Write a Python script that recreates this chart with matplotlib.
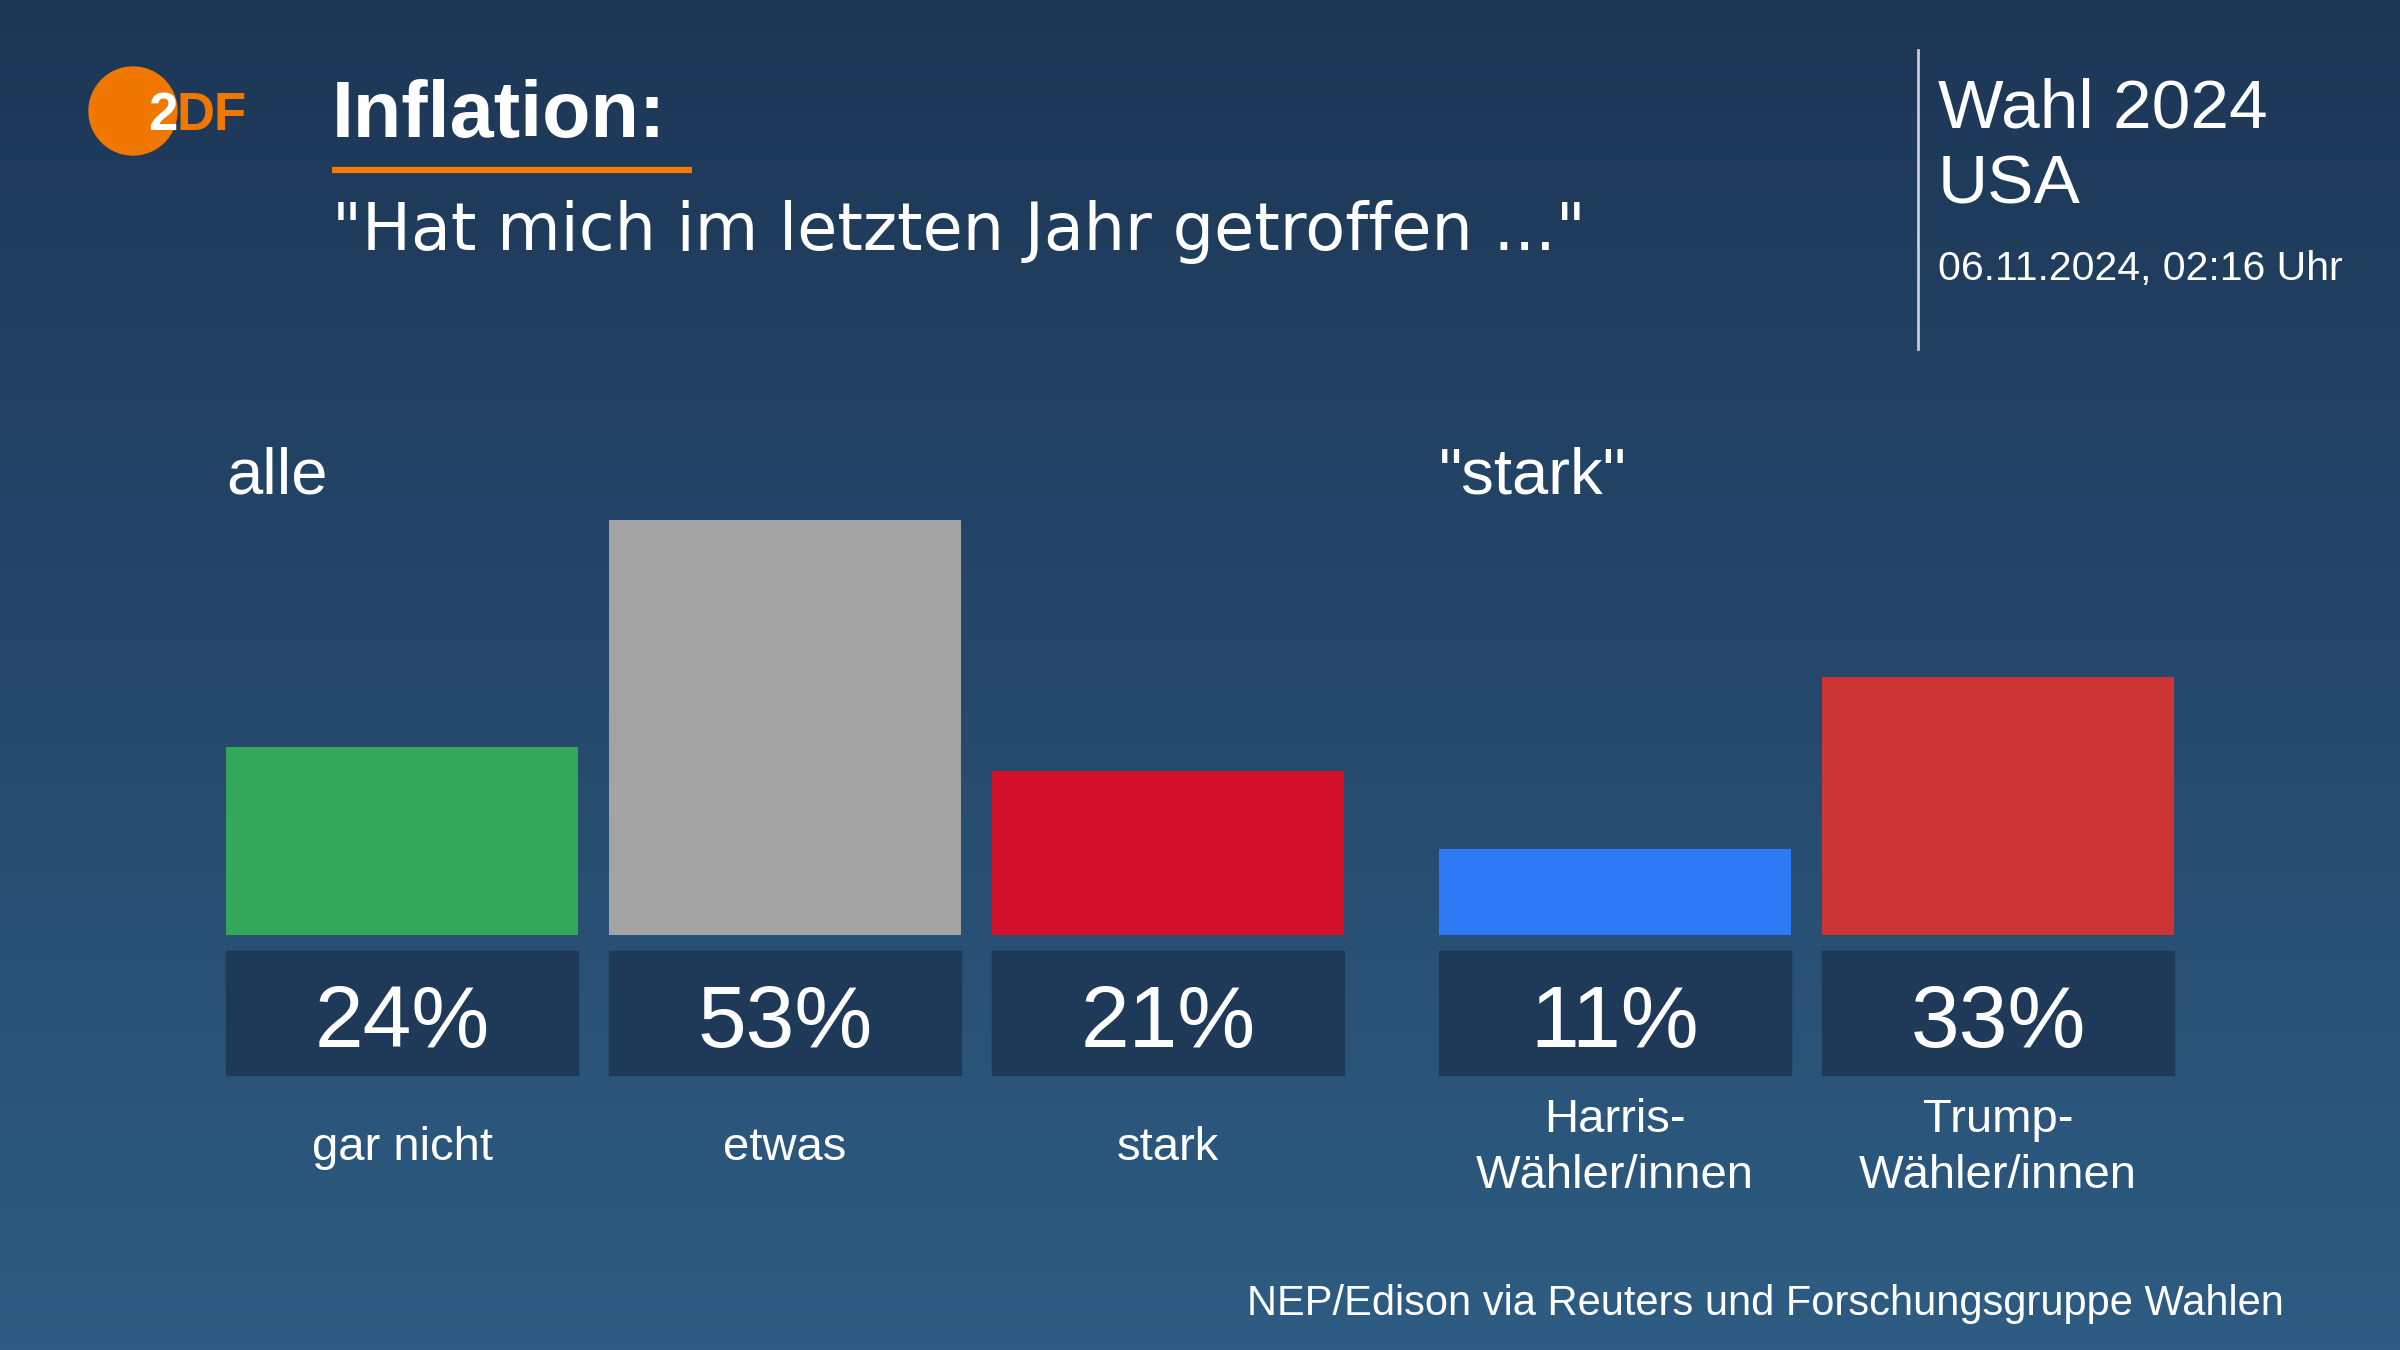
import numpy as np
import matplotlib
matplotlib.use("Agg")
import matplotlib.pyplot as plt
from matplotlib.patches import Circle, Rectangle
from matplotlib.colors import LinearSegmentedColormap

# Data
groups = ["alle", "\"stark\""]
categories = ["gar nicht", "etwas", "stark", "Harris-\nWähler/innen", "Trump-\nWähler/innen"]
group_of = [0, 0, 0, 1, 1]
values = [24, 53, 21, 11, 33]
bar_colors = ["#33a85b", "#a3a3a3", "#d4102a", "#2e7af6", "#cd3434"]

title = "Inflation:"
subtitle = "\"Hat mich im letzten Jahr getroffen ...\""
source = "NEP/Edison via Reuters und Forschungsgruppe Wahlen"

W, H = 2400, 1350
FONT = ["Liberation Sans", "DejaVu Sans"]
plt.rcParams["font.family"] = FONT

fig = plt.figure(figsize=(24, 13.5), dpi=100)

# background gradient
bg = fig.add_axes([0, 0, 1, 1])
cmap = LinearSegmentedColormap.from_list("bg", ["#1d3656", "#2e5c82"])
bg.imshow(np.linspace(0, 1, 256).reshape(-1, 1), aspect="auto", cmap=cmap,
          extent=[0, W, H, 0])
bg.set_xlim(0, W)
bg.set_ylim(H, 0)
bg.axis("off")

# layout (pixels)
bar_w = 352
step = 383
group_left = [226, 1439]
baseline_px = 935
px_per_pct = 7.83
centers = []
count = [0, 0]
for g in group_of:
    centers.append(group_left[g] + bar_w / 2 + count[g] * step)
    count[g] += 1

# bar axes: y in percent
top_pct = 60
ax = fig.add_axes([0, (H - baseline_px) / H, 1, top_pct * px_per_pct / H])
ax.bar(centers, values, width=bar_w, color=bar_colors)
ax.set_xlim(0, W)
ax.set_ylim(0, top_pct)
ax.axis("off")

# value boxes and labels
for c, v, lab in zip(centers, values, categories):
    bg.add_patch(Rectangle((c - bar_w / 2, 951), bar_w, 124, color="#1f3a59", zorder=2))
    bg.text(c, 1047, f"{v}%", color="white", fontsize=63, ha="center", va="baseline", zorder=3)
    lines = lab.split("\n")
    n = len(lines)
    for i, line in enumerate(lines):
        bg.text(c, 1160 + (i - (n - 1) / 2) * 55, line, color="white", fontsize=34,
                ha="center", va="baseline", zorder=3)

# group headers
for g, name in enumerate(groups):
    bg.text(group_left[g], 493, name, color="white", fontsize=47, ha="left", va="baseline")

# logo
bg.add_patch(Circle((133, 111), 44, color="#f07800", zorder=2))
bg.text(177, 130, "2", color="white", fontsize=38, fontweight="bold", ha="right",
        va="baseline", zorder=3)
bg.text(177, 130, "DF", color="#f07800", fontsize=38, fontweight="bold", ha="left",
        va="baseline", zorder=3)

# title block
bg.text(332, 137, title, color="white", fontsize=57, fontweight="bold", ha="left", va="baseline")
bg.plot([332, 692], [170, 170], color="#f57c00", lw=4.5, solid_capstyle="butt")
bg.text(332, 250, subtitle, color="white", fontsize=47, ha="left", va="baseline",
        family=["DejaVu Sans"])

# top right
bg.plot([1918, 1918], [50, 349], color="#c5ccd4", lw=2)
bg.text(1938, 128, "Wahl 2024", color="white", fontsize=50, ha="left", va="baseline")
bg.text(1938, 203, "USA", color="white", fontsize=50, ha="left", va="baseline")
bg.text(1938, 280, "06.11.2024, 02:16 Uhr", color="white", fontsize=29.5, ha="left", va="baseline")

# source
bg.text(2284, 1315, source, color="white", fontsize=30, ha="right", va="baseline")

fig.savefig("out.png", dpi=100)
